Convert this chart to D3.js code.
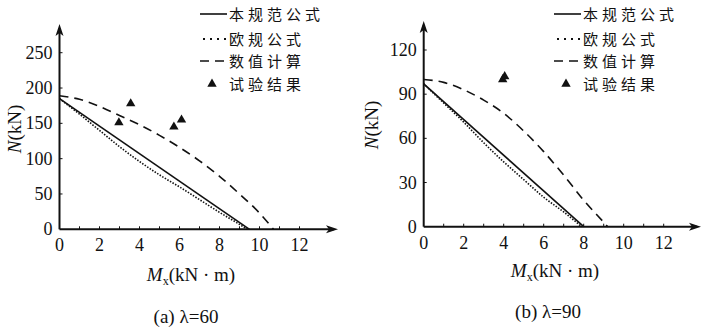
<!DOCTYPE html>
<html>
<head>
<meta charset="utf-8">
<script src="https://cdn.jsdelivr.net/npm/d3@7.9.0/dist/d3.min.js"></script>
<style>
  html, body { margin: 0; padding: 0; background: #fff; }
  svg { display: block; }
  .num { font-family: "Liberation Serif", "DejaVu Serif", serif; font-size: 18px; fill: #111; }
  .ttl { font-family: "Liberation Serif", "DejaVu Serif", serif; font-size: 19px; fill: #111; }
  .cjk { font-family: "Noto Sans CJK SC", sans-serif; font-size: 15px; letter-spacing: 4px; fill: #111; }
</style>
</head>
<body>
<svg id="chart" width="707" height="329"></svg>
<script>
/* =========================
   DATA  (M in kN·m, N in kN)
========================= */
const legendLabels = ['本规范公式', '欧规公式', '数值计算', '试验结果'];
const xTicks = [0, 2, 4, 6, 8, 10, 12];

// (a) lambda = 60
const aTicksY = [0, 50, 100, 150, 200, 250];
const aCode = [[0, 185], [9.5, 0]];
const aEuro = [[0, 185], [1, 163], [2, 140], [3, 117], [4, 96], [5, 77], [6, 60], [7, 42], [8, 24], [9, 7], [9.4, 0]];
const aNum = [[0, 189], [1, 184], [2, 174], [3, 161], [4, 148], [5, 133], [6, 116], [7, 97], [8, 75], [9, 50], [10, 23], [10.7, 0]];
const aTest = [[2.97, 151], [3.56, 178], [5.72, 145], [6.1, 155]];

// (b) lambda = 90
const bTicksY = [0, 30, 60, 90, 120];
const bCode = [[0, 97], [8, 0]];
const bEuro = [[0, 97], [1, 84], [2, 71], [3, 57], [4, 44], [5, 32], [6, 20], [7, 10], [7.9, 0]];
const bNum = [[0, 100], [1, 98], [2, 93], [3, 86], [4, 77], [5, 65], [6, 51], [7, 35], [8, 18], [9, 3], [9.2, 0]];
const bTest = [[3.95, 100], [4.05, 102]];

const svg = d3.select('#chart');

/* =========================
   ONE PANEL
========================= */
function drawPanel(p) {
  const g = svg.append('g');

  const x = d3.scaleLinear().domain([0, 12]).range([p.left, p.left + 240]);
  const y = d3.scaleLinear().domain([0, p.yMax]).range([p.bottom, p.top]);

  // axes with arrows
  g.append('line')
    .attr('x1', x(0)).attr('x2', p.xEnd)
    .attr('y1', y(0)).attr('y2', y(0))
    .attr('stroke', '#111').attr('stroke-width', 2);
  g.append('line')
    .attr('x1', x(0)).attr('x2', x(0))
    .attr('y1', y(0)).attr('y2', p.yEnd)
    .attr('stroke', '#111').attr('stroke-width', 2);
  g.append('path')
    .attr('d', `M${p.xEnd + 4},${y(0)} L${p.xEnd - 8},${y(0) - 4} L${p.xEnd - 5},${y(0)} L${p.xEnd - 8},${y(0) + 4} Z`)
    .attr('fill', '#111');
  g.append('path')
    .attr('d', `M${x(0)},${p.yEnd - 4} L${x(0) - 4},${p.yEnd + 8} L${x(0)},${p.yEnd + 5} L${x(0) + 4},${p.yEnd + 8} Z`)
    .attr('fill', '#111');

  // x ticks (every unit, inward)
  g.selectAll('.xt')
    .data(d3.range(1, 13))
    .join('line')
    .attr('x1', d => x(d)).attr('x2', d => x(d))
    .attr('y1', y(0)).attr('y2', y(0) - 3)
    .attr('stroke', '#111').attr('stroke-width', 1);

  g.selectAll('.xl')
    .data(xTicks)
    .join('text')
    .attr('class', 'num')
    .attr('x', d => x(d))
    .attr('y', y(0) + 22)
    .attr('text-anchor', 'middle')
    .text(d => d);

  // y ticks (inward)
  g.selectAll('.yt')
    .data(p.yTicks.slice(1))
    .join('line')
    .attr('x1', x(0)).attr('x2', x(0) + 3)
    .attr('y1', d => y(d)).attr('y2', d => y(d))
    .attr('stroke', '#111').attr('stroke-width', 1);

  g.selectAll('.yl')
    .data(p.yTicks)
    .join('text')
    .attr('class', 'num')
    .attr('x', x(0) - 7)
    .attr('y', d => y(d) + 6)
    .attr('text-anchor', 'end')
    .text(d => d);

  // axis titles
  const xt = g.append('text')
    .attr('class', 'ttl')
    .attr('x', p.xTitleX)
    .attr('y', p.xTitleY)
    .attr('text-anchor', 'middle');
  xt.append('tspan').attr('font-style', 'italic').text('M');
  xt.append('tspan').attr('font-size', 12).attr('dy', 4).text('x');
  xt.append('tspan').attr('dy', -4).text('(kN · m)');

  const yt = g.append('text')
    .attr('class', 'ttl')
    .attr('transform', `translate(${p.yTitleX},${p.yTitleY}) rotate(-90)`)
    .attr('text-anchor', 'middle');
  yt.append('tspan').attr('font-style', 'italic').text('N');
  yt.append('tspan').text('(kN)');

  // caption
  const cap = g.append('text')
    .attr('class', 'ttl')
    .attr('x', p.capX).attr('y', p.capY)
    .attr('text-anchor', 'middle');
  cap.append('tspan').text('(' + p.tag + ') ');
  cap.append('tspan').text('λ');
  cap.append('tspan').text('=' + p.lambda);

  // curves
  const line = d3.line().x(d => x(d[0])).y(d => y(d[1]));
  const curve = d3.line().x(d => x(d[0])).y(d => y(d[1])).curve(d3.curveMonotoneX);

  g.append('path').datum(p.code).attr('d', line)
    .attr('fill', 'none').attr('stroke', '#111').attr('stroke-width', 1.6);
  g.append('path').datum(p.euro).attr('d', curve)
    .attr('fill', 'none').attr('stroke', '#111').attr('stroke-width', 1.6)
    .attr('stroke-dasharray', '1.5 1.5');
  g.append('path').datum(p.num).attr('d', curve)
    .attr('fill', 'none').attr('stroke', '#111').attr('stroke-width', 1.6)
    .attr('stroke-dasharray', '9 6');

  const tri = d3.symbol().type(d3.symbolTriangle).size(38);
  g.selectAll('.tp')
    .data(p.test)
    .join('path')
    .attr('d', tri)
    .attr('transform', d => `translate(${x(d[0])},${y(d[1])})`)
    .attr('fill', '#111');

  // legend
  const lx = p.legX;
  const rows = [14, 39, 61, 84];
  const lg = g.append('g');
  lg.append('line').attr('x1', lx).attr('x2', lx + 27).attr('y1', rows[0]).attr('y2', rows[0])
    .attr('stroke', '#111').attr('stroke-width', 1.6);
  lg.append('line').attr('x1', lx + 3).attr('x2', lx + 26).attr('y1', rows[1]).attr('y2', rows[1])
    .attr('stroke', '#111').attr('stroke-width', 1.8).attr('stroke-dasharray', '2 5');
  lg.append('line').attr('x1', lx).attr('x2', lx + 27).attr('y1', rows[2]).attr('y2', rows[2])
    .attr('stroke', '#111').attr('stroke-width', 1.6).attr('stroke-dasharray', '9 6');
  lg.append('path').attr('d', tri).attr('transform', `translate(${lx + 12},${rows[3]})`).attr('fill', '#111');

  lg.selectAll('text')
    .data(legendLabels)
    .join('text')
    .attr('class', 'cjk')
    .attr('x', lx + 29)
    .attr('y', (d, i) => rows[i] + 6)
    .text(d => d);
}

drawPanel({
  left: 59.5, top: 52.7, bottom: 229.3, yMax: 250, yTicks: aTicksY,
  xEnd: 334, yEnd: 28,
  code: aCode, euro: aEuro, num: aNum, test: aTest,
  xTitleX: 191, xTitleY: 281, yTitleX: 21, yTitleY: 129,
  capX: 186, capY: 323, tag: 'a', lambda: 60,
  legX: 200
});

drawPanel({
  left: 423.7, top: 50, bottom: 226.7, yMax: 120, yTicks: bTicksY,
  xEnd: 697, yEnd: 25,
  code: bCode, euro: bEuro, num: bNum, test: bTest,
  xTitleX: 555, xTitleY: 277, yTitleX: 378, yTitleY: 125,
  capX: 548, capY: 318, tag: 'b', lambda: 90,
  legX: 554
});
</script>
</body>
</html>
